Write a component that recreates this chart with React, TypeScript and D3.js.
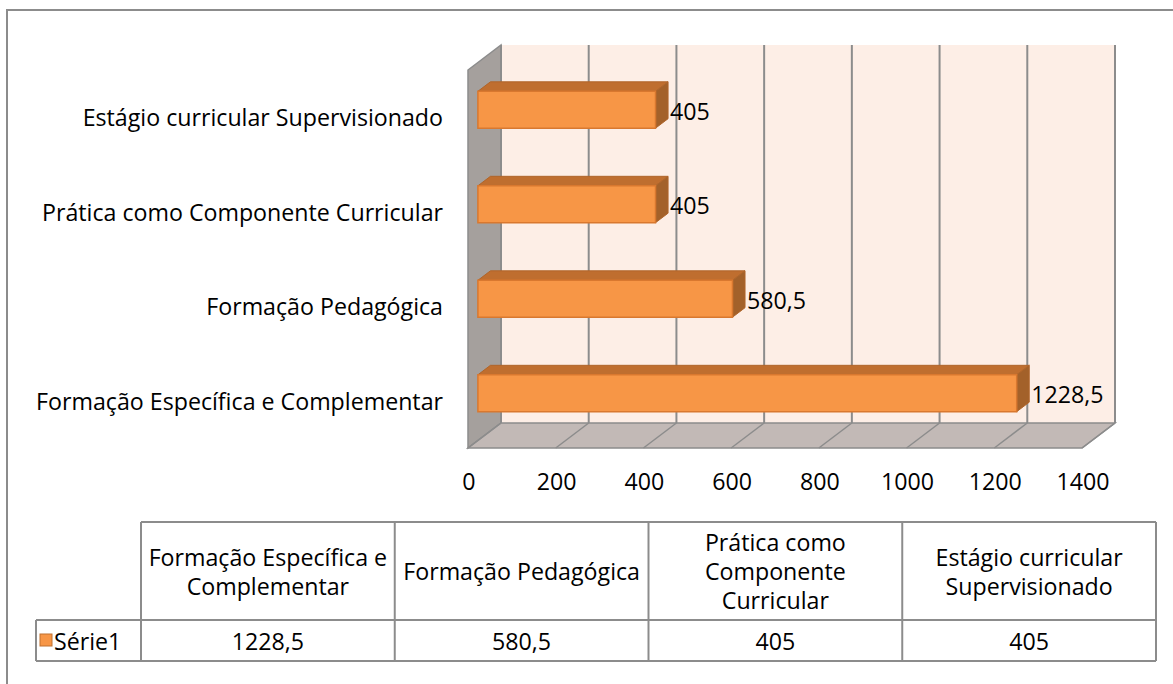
import React from 'react';
import * as d3 from 'd3';

// chart data
const categories = [
  'Formação Específica e Complementar',
  'Formação Pedagógica',
  'Prática como Componente Curricular',
  'Estágio curricular Supervisionado',
];
const values = [1228.5, 580.5, 405, 405];
const valueLabels = ['1228,5', '580,5', '405', '405'];
const xTicks = [0, 200, 400, 600, 800, 1000, 1200, 1400];
const tableHeaders = [
  ['Formação Específica e', 'Complementar'],
  ['Formação Pedagógica'],
  ['Prática como', 'Componente', 'Curricular'],
  ['Estágio curricular', 'Supervisionado'],
];
const seriesName = 'Série1';

const W = 1173;
const H = 684;
const FONT = "'Open Sans', sans-serif";
const FS = 23.2;

// 3d look: front plane and depth offset
const DX = 33;
const DY = -25;
const Z0 = 0.3; // bar front
const Z1 = 0.68; // bar back

const fmtTick = d3.format('d');

const App = () => {
  const x = d3.scaleLinear().domain([0, 1400]).range([468, 1082]);
  const y = d3.scaleBand().domain(categories).range([448, 70]).padding(0);
  const bw = y.bandwidth();
  const barH = bw * 0.39;

  const yBottom = 448;
  const yTop = 70;
  const p = (px: number, py: number, z: number) => `${px + z * DX},${py + z * DY}`;

  // table geometry
  const tX0 = 141;
  const tX1 = 1156;
  const legX = 36;
  const tY0 = 522;
  const tY1 = 620;
  const tY2 = 661;
  const col = d3.scaleBand().domain(categories).range([tX0, tX1]);
  const gridColor = '#8c8c8c';

  return (
    <svg width={W} height={H} style={{ position: 'absolute', left: 0, top: 0 }} fontFamily={FONT}>
      <rect x={0} y={0} width={W} height={H} fill="#fff" />
      {/* outer frame */}
      <rect x={7} y={10} width={W + 20} height={H + 20} fill="none" stroke={gridColor} strokeWidth={2} />

      {/* back wall */}
      <polygon
        points={[p(x(0), yTop, 1), p(x(1400), yTop, 1), p(x(1400), yBottom, 1), p(x(0), yBottom, 1)].join(' ')}
        fill="#fdeee6"
      />
      {/* left wall */}
      <polygon
        points={[p(x(0), yTop, 0), p(x(0), yTop, 1), p(x(0), yBottom, 1), p(x(0), yBottom, 0)].join(' ')}
        fill="#a5a09d"
        stroke={gridColor}
        strokeWidth={1.5}
      />
      {/* floor */}
      <polygon
        points={[p(x(0), yBottom, 0), p(x(1400), yBottom, 0), p(x(1400), yBottom, 1), p(x(0), yBottom, 1)].join(' ')}
        fill="#c2b9b6"
        stroke={gridColor}
        strokeWidth={1.5}
      />
      {/* gridlines */}
      {xTicks.map((t) => (
        <g key={t}>
          <line
            x1={x(t) + DX}
            x2={x(t) + DX}
            y1={yTop + DY}
            y2={yBottom + DY}
            stroke={gridColor}
            strokeWidth={2}
          />
          <line x1={x(t) + DX} x2={x(t)} y1={yBottom + DY} y2={yBottom} stroke={gridColor} strokeWidth={1.5} />
          <text x={x(t) + 1} y={481} textAnchor="middle" dominantBaseline="central" fontSize={FS} fill="#000">
            {fmtTick(t)}
          </text>
        </g>
      ))}

      {/* bars */}
      {categories.map((c, i) => {
        const cy = (y(c) as number) + bw / 2;
        const t = cy - barH / 2;
        const b = cy + barH / 2;
        const x0 = x(0);
        const x1 = x(values[i]);
        return (
          <g key={c}>
            <polygon
              points={[p(x0, t, Z0), p(x1, t, Z0), p(x1, t, Z1), p(x0, t, Z1)].join(' ')}
              fill="#bf6e2f"
              stroke="#b0652a"
              strokeWidth={1}
            />
            <polygon
              points={[p(x1, t, Z0), p(x1, t, Z1), p(x1, b, Z1), p(x1, b, Z0)].join(' ')}
              fill="#a3612a"
              stroke="#b0652a"
              strokeWidth={1}
            />
            <polygon
              points={[p(x0, t, Z0), p(x1, t, Z0), p(x1, b, Z0), p(x0, b, Z0)].join(' ')}
              fill="#f79646"
              stroke="#d9782f"
              strokeWidth={1.5}
            />
            <text
              x={x1 + Z1 * DX + 2}
              y={cy + Z0 * DY + 1}
              dominantBaseline="central"
              fontSize={FS}
              fill="#000"
            >
              {valueLabels[i]}
            </text>
            <text x={443} y={cy} textAnchor="end" dominantBaseline="central" fontSize={FS} fill="#000">
              {c}
            </text>
          </g>
        );
      })}

      {/* data table */}
      <g stroke={gridColor} strokeWidth={2}>
        <line x1={tX0} x2={tX1} y1={tY0} y2={tY0} />
        <line x1={legX} x2={tX1} y1={tY1} y2={tY1} />
        <line x1={legX} x2={tX1} y1={tY2} y2={tY2} />
        <line x1={legX} x2={legX} y1={tY1} y2={tY2} />
        <line x1={tX0} x2={tX0} y1={tY0} y2={tY2} />
        {categories.map((c) => (
          <line
            key={c}
            x1={(col(c) as number) + col.bandwidth()}
            x2={(col(c) as number) + col.bandwidth()}
            y1={tY0}
            y2={tY2}
          />
        ))}
      </g>
      {categories.map((c, i) => {
        const cx = (col(c) as number) + col.bandwidth() / 2;
        const lines = tableHeaders[i];
        const lh = 29;
        const mid = (tY0 + tY1) / 2;
        return (
          <g key={c} fontSize={FS} fill="#000" textAnchor="middle">
            {lines.map((ln, j) => (
              <text key={j} x={cx} y={mid + (j - (lines.length - 1) / 2) * lh} dominantBaseline="central">
                {ln}
              </text>
            ))}
            <text x={cx} y={(tY1 + tY2) / 2} dominantBaseline="central">
              {valueLabels[i]}
            </text>
          </g>
        );
      })}
      <rect x={40} y={634} width={12} height={12} fill="#f79646" stroke="#c0712f" strokeWidth={1} />
      <text x={54} y={(tY1 + tY2) / 2} dominantBaseline="central" fontSize={FS} fill="#000">
        {seriesName}
      </text>
    </svg>
  );
};

export default App;
